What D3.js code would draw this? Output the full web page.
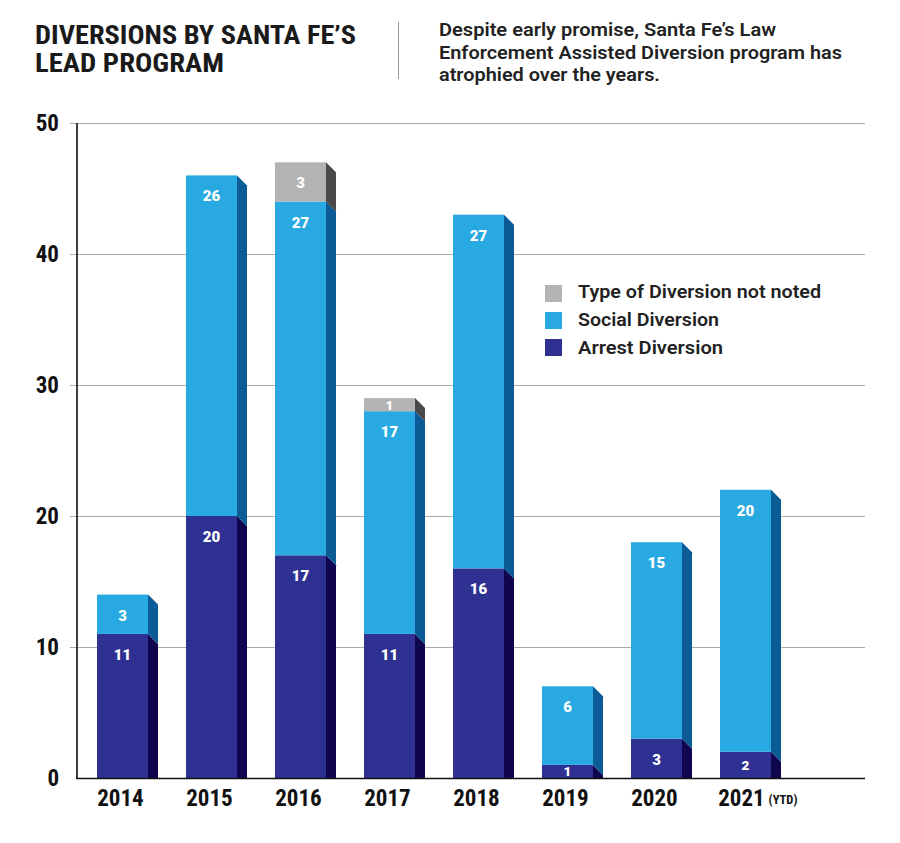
<!DOCTYPE html>
<html><head><meta charset="utf-8">
<script src="https://cdn.jsdelivr.net/npm/d3@7"></script>
<style>
body{margin:0;background:#fff;}
svg{display:block;}
.cond{font-family:"Liberation Sans Narrow","Roboto Condensed","Arial Narrow",sans-serif;font-weight:700;}
</style></head>
<body>
<svg id="chart" width="900" height="843"></svg>
<script>
const years = ["2014","2015","2016","2017","2018","2019","2020","2021"];
const arrest = [11,20,17,11,16,1,3,2];
const social = [3,26,27,17,27,6,15,20];
const notNoted = [0,0,3,1,0,0,0,0];
const yTicks = [0,10,20,30,40,50];
const seriesNames = ["Type of Diversion not noted","Social Diversion","Arrest Diversion"];
const frontColors = {arrest:"#2E3192", social:"#29A9E1", notNoted:"#B3B3B3"};
const sideColors = {arrest:"#10054F", social:"#0B5B96", notNoted:"#4A4A4A"};

const svg = d3.select("#chart");
const x = d3.scaleBand().domain(years).range([97,771]).paddingInner(0.427).paddingOuter(0).align(0);
const y = d3.scaleLinear().domain([0,50]).range([778,123]);
const depthX = 10, depthY = 10;

// title
const t = svg.append("text").attr("class","cond").attr("fill","#1a1a1a").attr("font-size",26);
t.append("tspan").attr("x",35).attr("y",44).attr("textLength",321).attr("lengthAdjust","spacingAndGlyphs").text("DIVERSIONS BY SANTA FE’S");
t.append("tspan").attr("x",35).attr("y",72).attr("textLength",189).attr("lengthAdjust","spacingAndGlyphs").text("LEAD PROGRAM");
svg.append("line").attr("x1",398.5).attr("x2",398.5).attr("y1",22).attr("y2",79).attr("stroke","#999").attr("stroke-width",1);
const st = svg.append("text").attr("font-family","Roboto, sans-serif").attr("font-weight",600).attr("font-size",18.5).attr("fill","#222");
const subLines = ["Despite early promise, Santa Fe’s Law","Enforcement Assisted Diversion program has","atrophied over the years."];
const subLens = [337,403,221];
subLines.forEach((s,i)=>{
  st.append("tspan").attr("x",439).attr("y",36+i*22.5).attr("textLength",subLens[i]).attr("lengthAdjust","spacingAndGlyphs").text(s);
});

// gridlines
svg.append("g").selectAll("line").data(yTicks.filter(d=>d>0)).join("line")
  .attr("x1",70).attr("x2",865).attr("y1",d=>y(d)+0.5).attr("y2",d=>y(d)+0.5)
  .attr("stroke","#aaaaaa").attr("stroke-width",1.2);

// stacks
const rows = years.map((yr,i)=>({year:yr, arrest:arrest[i], social:social[i], notNoted:notNoted[i]}));
const keys = ["arrest","social","notNoted"];
const stack = d3.stack().keys(keys)(rows);
const gBars = svg.append("g");
stack.forEach(layer=>{
  const key = layer.key;
  layer.forEach(d=>{
    const v = d[1]-d[0];
    if(v<=0) return;
    const x0 = x(d.data.year), w = x.bandwidth();
    const yTop = y(d[1]), yBot = y(d[0]);
    const botSide = d[0]===0 ? yBot : yBot+depthY;
    gBars.append("path")
      .attr("d",`M${x0+w},${yTop} L${x0+w+depthX},${yTop+depthY} L${x0+w+depthX},${botSide} L${x0+w},${yBot} Z`)
      .attr("fill",sideColors[key]);
    gBars.append("rect").attr("x",x0).attr("y",yTop).attr("width",w).attr("height",yBot-yTop).attr("fill",frontColors[key]);
  });
});
// value labels
stack.forEach(layer=>{
  layer.forEach(d=>{
    const v = d[1]-d[0];
    if(v<=0) return;
    const yTop = y(d[1]), yBot = y(d[0]);
    const small = (yBot-yTop) < 30;
    const yy = small ? (yTop+yBot)/2 + 5 : yTop+26;
    gBars.append("text").attr("x",x(d.data.year)+x.bandwidth()/2).attr("y",yy)
      .attr("text-anchor","middle").attr("fill","#fff").attr("font-family","Roboto, sans-serif")
      .attr("font-weight",900).attr("font-size",small ? 13.5 : 15).text(v);
  });
});

// white cover under baseline
svg.append("rect").attr("x",77).attr("y",779).attr("width",800).attr("height",20).attr("fill","#fff");

// axes lines
svg.append("line").attr("x1",77).attr("x2",77).attr("y1",123).attr("y2",778.5).attr("stroke","#111").attr("stroke-width",1.6);
svg.append("line").attr("x1",76).attr("x2",865).attr("y1",778.5).attr("y2",778.5).attr("stroke","#111").attr("stroke-width",1.6);

// y tick labels
svg.append("g").selectAll("text").data(yTicks).join("text").attr("class","cond")
  .attr("x",59).attr("y",d=>y(d)+8).attr("text-anchor","end").attr("font-size",23).attr("fill","#111").text(d=>d);

// x labels
svg.append("g").selectAll("text").data(years).join("text").attr("class","cond")
  .attr("x",d=>x(d)+x.bandwidth()/2 - (d==="2021"?4:2)).attr("y",806).attr("text-anchor","middle").attr("font-size",23).attr("fill","#111")
  .text(d=>d);
svg.append("text").attr("class","cond").attr("x",x("2021")+x.bandwidth()/2+23).attr("y",804).attr("font-size",12.5).attr("fill","#111").text("(YTD)");

// legend
const legKeys = ["notNoted","social","arrest"];
const legLens = [243,141,145];
const lg = svg.append("g");
legKeys.forEach((k,i)=>{
  lg.append("rect").attr("x",545).attr("y",285+i*27).attr("width",17).attr("height",17).attr("fill",frontColors[k]);
  lg.append("text").attr("x",578).attr("y",298+i*28).attr("font-family","Roboto, sans-serif").attr("font-weight",600)
    .attr("font-size",19).attr("fill","#222").attr("textLength",legLens[i]).attr("lengthAdjust","spacingAndGlyphs").text(seriesNames[i]);
});
</script>
</body></html>
